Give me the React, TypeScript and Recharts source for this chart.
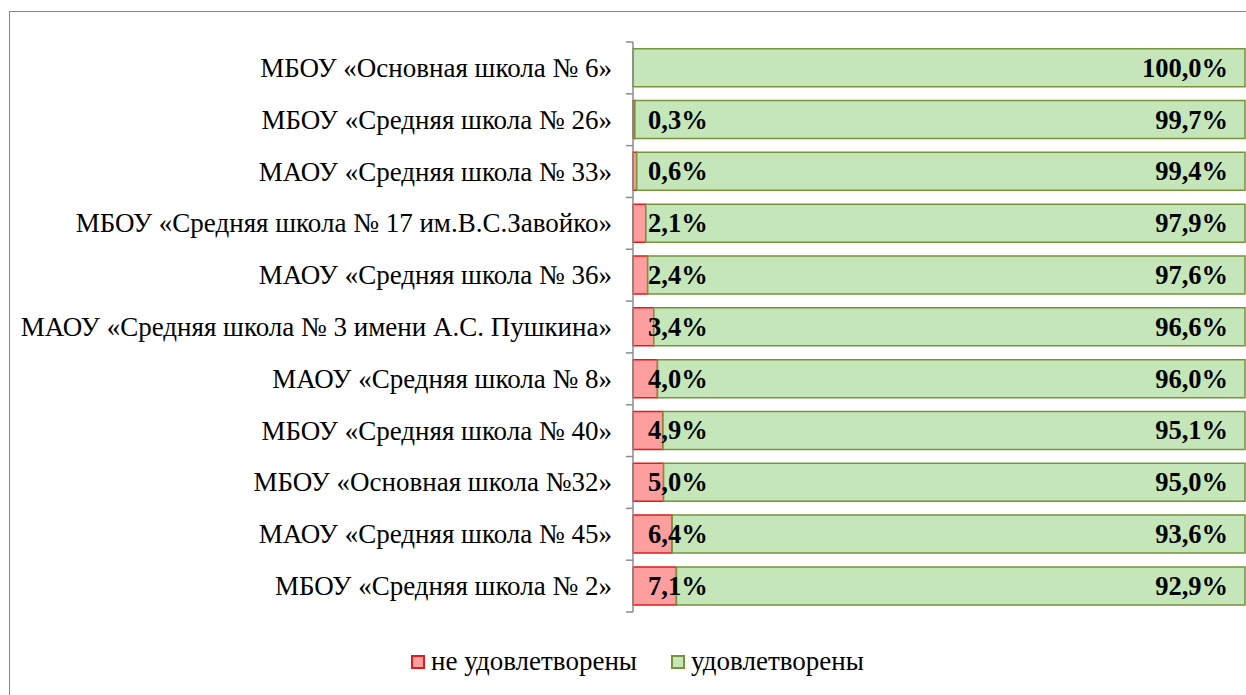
import React from 'react';
import { BarChart, Bar, XAxis, YAxis, LabelList } from 'recharts';

const categories = [
  'МБОУ «Основная школа № 6»',
  'МБОУ «Средняя школа № 26»',
  'МАОУ «Средняя школа № 33»',
  'МБОУ «Средняя школа № 17 им.В.С.Завойко»',
  'МАОУ «Средняя школа № 36»',
  'МАОУ «Средняя школа № 3 имени А.С. Пушкина»',
  'МАОУ «Средняя школа № 8»',
  'МБОУ «Средняя школа № 40»',
  'МБОУ «Основная школа №32»',
  'МАОУ «Средняя школа № 45»',
  'МБОУ «Средняя школа № 2»',
];
const notSatisfied = [0, 0.3, 0.6, 2.1, 2.4, 3.4, 4.0, 4.9, 5.0, 6.4, 7.1];
const satisfied = [100, 99.7, 99.4, 97.9, 97.6, 96.6, 96.0, 95.1, 95.0, 93.6, 92.9];
const seriesNames = ['не удовлетворены', 'удовлетворены'];

const data = categories.map((name, i) => ({ name, bad: notSatisfied[i], good: satisfied[i] }));

const W = 1246;
const H = 695;
const TOP = 42;
const BOTTOM = 612;
const STEP = (BOTTOM - TOP) / categories.length;
const FONT = 'Liberation Serif';
const RED_FILL = '#FF9E9E';
const RED_STROKE = '#E01B1B';
const GREEN_FILL = '#C5E6B8';
const GREEN_STROKE = '#77933C';
const AXIS = '#8C8C8C';

const fmt = (v: number) => v.toFixed(1).replace('.', ',') + '%';

const CatTick = (props: any) => {
  const { x, y, payload, index } = props;
  return (
    <g>
      <line x1={x - 7} x2={x} y1={y - STEP / 2} y2={y - STEP / 2} stroke={AXIS} strokeWidth={1.5} />
      {index === categories.length - 1 && (
        <line x1={x - 7} x2={x} y1={y + STEP / 2} y2={y + STEP / 2} stroke={AXIS} strokeWidth={1.5} />
      )}
      <text x={x - 21} y={y} textAnchor="end" dominantBaseline="central" fontFamily={FONT} fontSize={27} fill="#000">
        {payload.value}
      </text>
    </g>
  );
};

const BadLabel = (props: any) => {
  const { x, y, height, value } = props;
  if (!value) return null;
  return (
    <text x={x + 15} y={y + height / 2} textAnchor="start" dominantBaseline="central" fontFamily={FONT} fontSize={26.5} fontWeight="bold" fill="#000">
      {fmt(value)}
    </text>
  );
};

const GoodLabel = (props: any) => {
  const { x, y, width, height, value } = props;
  return (
    <text x={x + width - 17} y={y + height / 2} textAnchor="end" dominantBaseline="central" fontFamily={FONT} fontSize={26.5} fontWeight="bold" fill="#000">
      {fmt(value)}
    </text>
  );
};

const LegendBox = () => {
  const items = [
    { name: seriesNames[0], fill: RED_FILL, stroke: RED_STROKE },
    { name: seriesNames[1], fill: GREEN_FILL, stroke: GREEN_STROKE },
  ];
  return (
    <div style={{ position: 'absolute', top: 646, left: 411, display: 'flex', fontFamily: FONT, fontSize: 27, color: '#000', whiteSpace: 'nowrap' }}>
      {items.map((it, i) => (
        <div key={i} style={{ display: 'flex', alignItems: 'center', marginRight: i === 0 ? 34 : 0 }}>
          <span style={{ display: 'inline-block', width: 10, height: 10, background: it.fill, border: `2px solid ${it.stroke}`, marginRight: 6 }} />
          <span>{it.name}</span>
        </div>
      ))}
    </div>
  );
};

export default function App() {
  return (
    <div style={{ position: 'absolute', left: 0, top: 0, width: W, height: H, overflow: 'hidden', background: '#fff' }}>
      <div style={{ position: 'absolute', left: 9, top: 11, width: 1400, height: 900, border: '1px solid #858585' }} />
      <div style={{ position: 'absolute', left: 0, top: 0 }}>
        <BarChart
          width={W}
          height={H}
          data={data}
          layout="vertical"
          margin={{ top: TOP, right: 1, bottom: H - BOTTOM, left: 0 }}
          barCategoryGap="13%"
        >
          <XAxis type="number" domain={[0, 100]} hide />
          <YAxis
            type="category"
            dataKey="name"
            width={633}
            axisLine={{ stroke: AXIS, strokeWidth: 1.5 }}
            tickLine={false}
            tickSize={0}
            tickMargin={0}
            tick={<CatTick />}
            interval={0}
          />
          <Bar dataKey="bad" name={seriesNames[0]} stackId="s" fill={RED_FILL} stroke={RED_STROKE} strokeWidth={1.5} isAnimationActive={false}>
            <LabelList dataKey="bad" content={<BadLabel />} />
          </Bar>
          <Bar dataKey="good" name={seriesNames[1]} stackId="s" fill={GREEN_FILL} stroke={GREEN_STROKE} strokeWidth={1.5} isAnimationActive={false}>
            <LabelList dataKey="good" content={<GoodLabel />} />
          </Bar>
        </BarChart>
      </div>
      <LegendBox />
    </div>
  );
}
